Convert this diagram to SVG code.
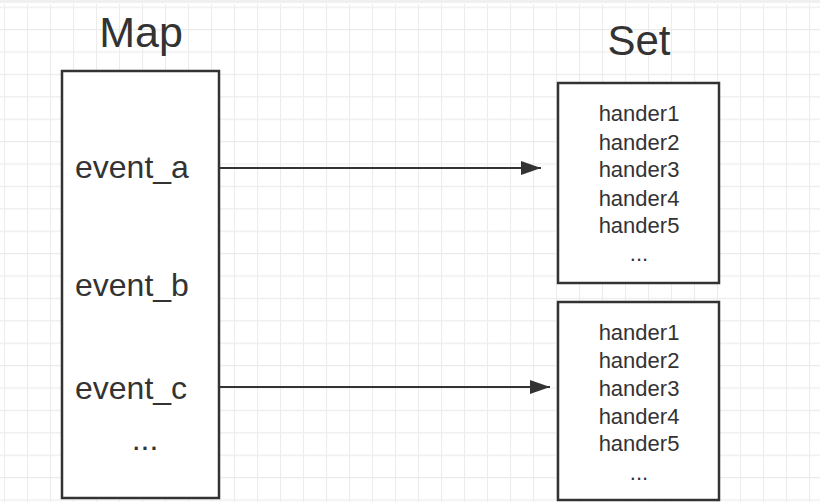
<svg xmlns="http://www.w3.org/2000/svg" width="833" height="502" viewBox="0 0 833 502">
  <defs>
    <pattern id="grid" patternUnits="userSpaceOnUse" x="4" y="6.6" width="23" height="22.4">
      <path d="M 0.5 0 V 22.4 M 0 0.5 H 23" fill="none" stroke="#ececec" stroke-width="1.2"/>
    </pattern>
    <marker id="arrow" viewBox="0 0 20 14" refX="20" refY="7" markerWidth="20" markerHeight="14" markerUnits="userSpaceOnUse" orient="auto">
      <path d="M0,0 L20,7 L0,14 Z" fill="#333"/>
    </marker>
  </defs>
  <style>
    .box { fill: #fff; stroke: #333; stroke-width: 2.5; }
    .title { font-family: "Liberation Sans", Arial, sans-serif; fill: #333; text-anchor: middle; }
    .key { font-family: "Liberation Sans", Arial, sans-serif; font-size: 32px; fill: #333; }
    .item { font-family: "Liberation Sans", Arial, sans-serif; font-size: 22px; fill: #333; text-anchor: middle; }
    .conn { stroke: #333; stroke-width: 2.2; fill: none; }
  </style>
  <rect width="833" height="502" fill="#fff"/>
  <rect x="0" y="4" width="820" height="498" fill="url(#grid)"/>
  <line x1="0" y1="1.5" x2="820" y2="1.5" stroke="#f0f0f0" stroke-width="3"/>

  <g id="map">
    <text class="title" x="141" y="47" font-size="43">Map</text>
    <rect class="box" x="62" y="71" width="157" height="427"/>
    <text class="key" x="75" y="178">event_a</text>
    <text class="key" x="75" y="296">event_b</text>
    <text class="key" x="75" y="399">event_c</text>
    <text class="key" x="145" y="450" text-anchor="middle" font-size="30">...</text>
  </g>

  <g id="set-title">
    <text class="title" x="639" y="55" font-size="42">Set</text>
  </g>

  <g id="set1">
    <rect class="box" x="558" y="83" width="161" height="200"/>
    <text class="item" x="639" y="121">hander1</text>
    <text class="item" x="639" y="150">hander2</text>
    <text class="item" x="639" y="177">hander3</text>
    <text class="item" x="639" y="206">hander4</text>
    <text class="item" x="639" y="233">hander5</text>
    <text class="item" x="639" y="261">...</text>
  </g>

  <g id="set2">
    <rect class="box" x="558" y="302" width="161" height="198"/>
    <text class="item" x="639" y="340">hander1</text>
    <text class="item" x="639" y="368">hander2</text>
    <text class="item" x="639" y="396">hander3</text>
    <text class="item" x="639" y="424">hander4</text>
    <text class="item" x="639" y="451">hander5</text>
    <text class="item" x="639" y="480">...</text>
  </g>

  <g id="connectors">
    <line class="conn" x1="219" y1="168" x2="541" y2="168" marker-end="url(#arrow)"/>
    <line class="conn" x1="220" y1="387" x2="550" y2="387" marker-end="url(#arrow)"/>
  </g>
</svg>
